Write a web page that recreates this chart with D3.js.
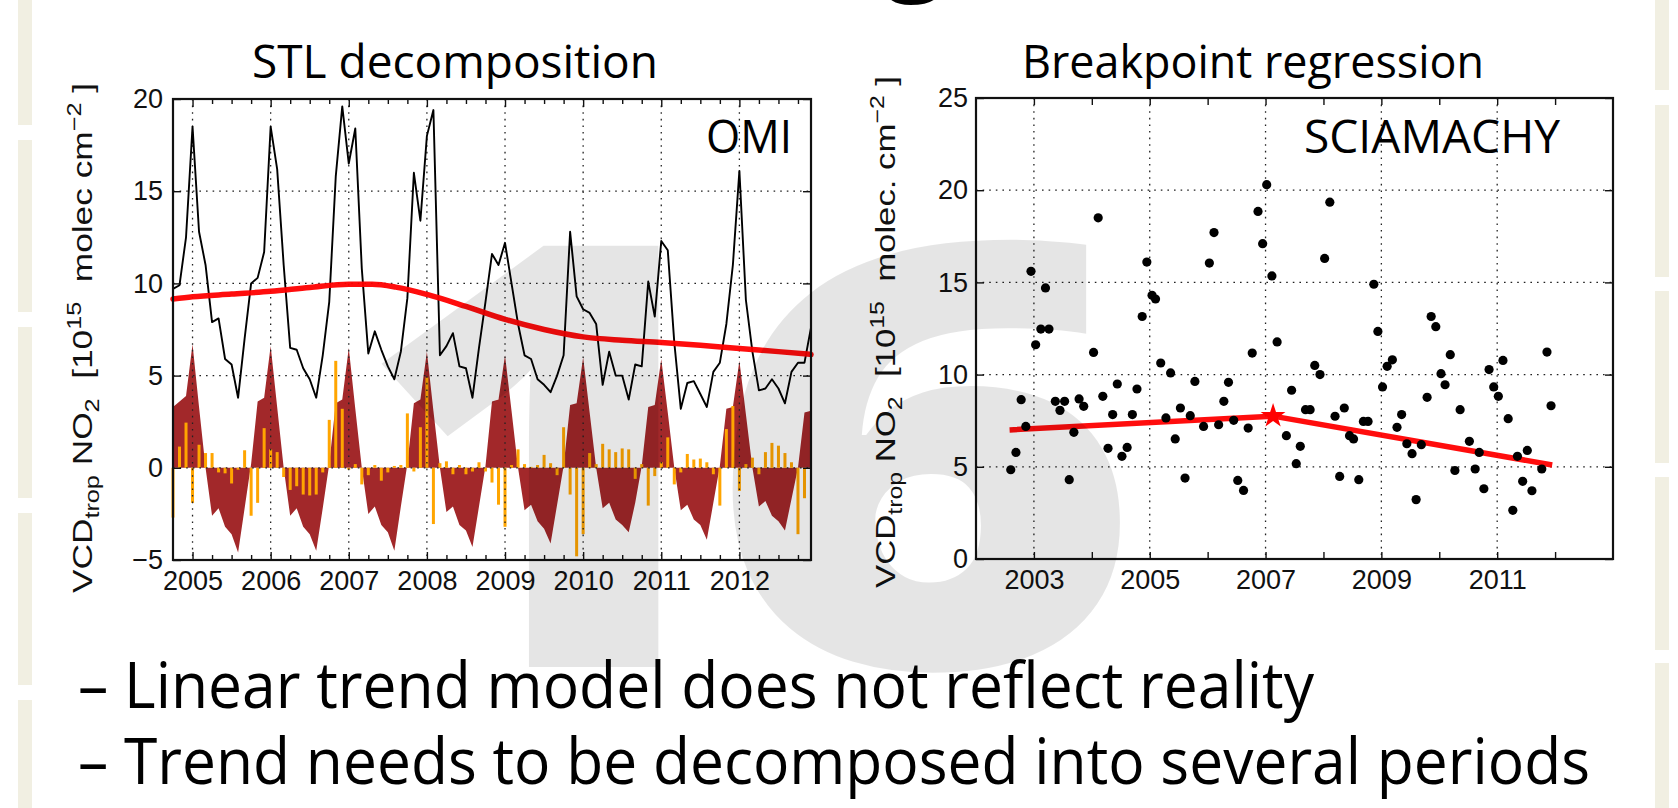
<!DOCTYPE html>
<html lang="en">
<head>
<meta charset="UTF-8">
<title>NO2 trend: STL decomposition and breakpoint regression</title>
<script src="https://d3js.org/d3.v7.min.js"></script>
<style>
  body { margin: 0; background: #fff; }
  svg { display: block; }
  .tick text { font-family: "Liberation Sans", Arial, sans-serif; font-size: 27px; fill: #111; }
  .tick line { stroke: #111; stroke-width: 1.4px; }
  .slide { font-family: "Open Sans", "Noto Sans", sans-serif; fill: #000; }
  .grid line { stroke: #222; stroke-width: 1.3px; stroke-dasharray: 1.6 5; }
</style>
</head>
<body>
<svg id="chart" width="1678" height="808"></svg>
<script>
// ---- OMI (left panel), monthly Oct 2004 .. Dec 2012 ----
const omiStart = 2004.75;
const omiVcd = [
  9.7, 9.9, 12.5,
  18.5, 12.8, 11.0, 7.9, 8.1, 5.9, 5.6, 3.8, 7.0, 10.0, 10.3, 11.7,
  18.5, 16.2, 11.0, 6.5, 6.4, 5.4, 4.8, 3.8, 6.1, 9.0, 15.8, 19.6,
  16.5, 18.4, 10.8, 6.2, 7.4, 6.4, 5.5, 4.8, 6.3, 9.2, 16.0, 13.4,
  18.0, 19.4, 6.1, 6.6, 7.3, 5.5, 5.4, 3.8, 6.5, 9.0, 11.6, 11.0,
  12.2, 10.0, 7.8, 6.1, 5.9, 4.8, 4.5, 4.1, 5.0, 6.1, 12.8, 9.3,
  8.6, 8.4, 7.8, 4.5, 6.3, 5.0, 5.0, 3.7, 5.6, 5.5, 10.1, 8.2,
  12.3, 11.8, 6.8, 3.2, 4.6, 4.7, 4.0, 3.3, 5.2, 5.7, 7.8, 11.0,
  16.1, 9.1, 6.3, 4.2, 4.3, 4.8, 4.3, 3.5, 5.2, 5.7, 5.7, 7.6
];
const omiSeasonal = [
  3.3, 3.6, 3.9,
  6.7, 3.3, 0.0, -2.6, -2.2, -3.2, -3.6, -4.6, -2.2, 0.2, 3.6, 3.8,
  6.6, 3.3, 0.0, -2.6, -2.2, -3.2, -3.6, -4.5, -2.2, 0.2, 3.5, 3.7,
  6.5, 3.2, 0.0, -2.5, -2.1, -3.1, -3.5, -4.5, -2.1, 0.2, 3.5, 3.7,
  6.3, 3.1, 0.0, -2.4, -2.1, -3.1, -3.4, -4.3, -2.1, 0.1, 3.6, 3.7,
  6.1, 3.1, 0.0, -2.3, -2.0, -2.9, -3.3, -4.1, -2.0, 0.1, 3.4, 3.5,
  6.0, 3.0, 0.0, -2.2, -1.9, -2.8, -3.1, -3.5, -1.9, 0.1, 3.3, 3.4,
  5.9, 3.0, 0.0, -2.3, -2.0, -2.8, -3.1, -3.9, -1.9, 0.1, 3.2, 3.3,
  5.8, 2.9, 0.0, -2.1, -1.8, -2.6, -2.9, -3.4, -1.7, 0.0, 3.0, 3.1
];
const omiResidual = [
  -2.7, 1.15, 2.45,
  -1.9, 1.25, 0.8, 0.8, -0.25, -0.3, -0.85, -0.1, 0.95, -2.6, -1.9, 2.15,
  1.0, 0.85, -0.5, -1.2, -1.0, -1.45, -1.5, -1.45, -0.25, 2.6, 5.8, 3.2,
  -0.1, 0.2, -0.9, -0.4, 0.15, -0.7, -0.25, 0.1, 0.15, 2.95, -0.2, 2.2,
  4.9, -3.05, 0.25, 0.35, -0.35, 0.15, -0.35, -0.2, 0.3, -0.2, -0.8, -2.0,
  -3.2, 0.15, 1.0, 0.2, 0.05, 0.15, 0.7, 0.25, -0.4, 2.2, -1.45, -4.8,
  -3.6, 0.8, 0.2, 1.3, 1.0, 0.85, 1.05, 1.0, -0.6, 0.2, -2.05, -0.45,
  0.3, 1.65, -0.9, -0.25, 0.75, 0.45, 0.5, 0.3, -0.35, -2.05, 2.1, 3.35,
  -1.25, 0.2, 0.55, -0.35, 0.85, 1.35, 1.2, 0.8, 0.3, -3.6, -1.65, 0.0
];
const omiTrendTime = [2004.75, 2005.0, 2005.5, 2006.0, 2006.5, 2007.0, 2007.3, 2007.6, 2008.0,
  2008.5, 2009.0, 2009.5, 2010.0, 2010.5, 2011.0, 2011.5, 2012.0, 2012.5, 2012.917];
const omiTrendVcd = [9.15, 9.27, 9.42, 9.57, 9.78, 9.95, 9.95, 9.8, 9.4,
  8.75, 8.05, 7.5, 7.1, 6.92, 6.8, 6.65, 6.47, 6.3, 6.15];
const omiYears = [2005, 2006, 2007, 2008, 2009, 2010, 2011, 2012];
const omiYTicks = [-5, 0, 5, 10, 15, 20];

// ---- SCIAMACHY (right panel) ----
const sciaTime = [
  2002.60, 2002.69, 2002.78, 2002.86, 2002.95, 2003.03, 2003.12, 2003.20, 2003.26, 2003.37,
  2003.45, 2003.53, 2003.61, 2003.69, 2003.78, 2003.86, 2004.03, 2004.11, 2004.19, 2004.28,
  2004.36, 2004.44, 2004.52, 2004.61, 2004.70, 2004.78, 2004.87, 2004.95, 2005.04, 2005.10,
  2005.19, 2005.28, 2005.36, 2005.44, 2005.53, 2005.61, 2005.70, 2005.78, 2005.93, 2006.03,
  2006.11, 2006.19, 2006.28, 2006.36, 2006.45, 2006.52, 2006.62, 2006.70, 2006.77, 2006.87,
  2006.95, 2007.02, 2007.11, 2007.20, 2007.36, 2007.45, 2007.53, 2007.60, 2007.69, 2007.77,
  2007.85, 2007.94, 2008.02, 2008.11, 2008.20, 2008.28, 2008.36, 2008.45, 2008.52, 2008.61,
  2008.69, 2008.77, 2008.87, 2008.94, 2009.02, 2009.10, 2009.19, 2009.27, 2009.35, 2009.44,
  2009.53, 2009.60, 2009.69, 2009.79, 2009.86, 2009.94, 2010.03, 2010.10, 2010.19, 2010.27,
  2010.36, 2010.52, 2010.62, 2010.69, 2010.77, 2010.86, 2010.94, 2011.02, 2011.10, 2011.19,
  2011.27, 2011.35, 2011.44, 2011.52, 2011.60, 2011.77, 2011.86, 2011.93
];
const sciaVcd = [
  4.84, 5.78, 8.64, 7.19, 15.6, 11.62, 12.47, 14.7, 12.47, 8.55,
  8.06, 8.55, 4.3, 6.87, 8.68, 8.28, 11.2, 18.5, 8.82, 6.0,
  7.83, 9.49, 5.57, 6.05, 7.83, 9.22, 13.15, 16.1, 14.3, 14.1,
  10.63, 7.65, 10.09, 6.51, 8.19, 4.39, 7.77, 9.63, 7.19, 16.05,
  17.7, 7.28, 8.55, 9.58, 7.52, 4.26, 3.72, 7.1, 11.17, 18.85,
  17.1, 20.3, 15.35, 11.77, 6.69, 9.15, 5.17, 6.11, 8.1, 8.1,
  10.5, 10.0, 16.3, 19.35, 7.74, 4.48, 8.19, 6.69, 6.51, 4.3,
  7.46, 7.46, 14.9, 12.34, 9.33, 10.45, 10.8, 7.14, 7.83, 6.25,
  5.71, 3.22, 6.2, 8.77, 13.15, 12.6, 10.05, 9.45, 11.08, 4.8,
  8.1, 6.38, 4.88, 5.78, 3.81, 10.27, 9.33, 8.82, 10.77, 7.61,
  2.64, 5.57, 4.21, 5.89, 3.7, 4.88, 11.22, 8.31
];
const breakTime = [2002.58, 2007.13, 2011.95];
const breakVcd = [7.0, 7.75, 5.1];
const sciaYears = [2003, 2004, 2005, 2006, 2007, 2008, 2009, 2010, 2011, 2012];
const sciaLabelYears = [2003, 2005, 2007, 2009, 2011];
const sciaYTicks = [0, 5, 10, 15, 20, 25];

const svg = d3.select("#chart");

// slide decoration: beige side strips
const leftStrip = [[0, 125], [140, 312], [327, 498], [513, 685], [700, 808]];
const rightStrip = [[0, 90], [105, 277], [291, 463], [477, 650], [663, 808]];
svg.append("g").selectAll("rect").data(leftStrip).join("rect")
  .attr("x", 18).attr("width", 14)
  .attr("y", d => d[0]).attr("height", d => d[1] - d[0])
  .attr("fill", "#f1efe2");
svg.append("g").selectAll("rect").data(rightStrip).join("rect")
  .attr("x", 1655).attr("width", 14)
  .attr("y", d => d[0]).attr("height", d => d[1] - d[0])
  .attr("fill", "#f1efe2");

// cut-off slide title (only a descender shows)
svg.append("text").attr("class", "slide")
  .attr("x", 915).attr("y", -22).attr("text-anchor", "middle")
  .attr("font-size", 110).attr("font-weight", 600).text("g");

function ticksInward(g, axis) {
  g.call(axis);
  g.select(".domain").remove();
}
function ticksOnly(g, axis) {
  ticksInward(g, axis);
  g.selectAll("text").remove();
}

function yLabel(x, y, len, unit) {
  const t = svg.append("text")
    .attr("transform", `translate(${x},${y}) rotate(-90)`)
    .attr("text-anchor", "middle")
    .attr("font-family", "Liberation Sans, Arial, sans-serif")
    .attr("font-size", 28).attr("fill", "#111")
    .attr("textLength", len).attr("lengthAdjust", "spacingAndGlyphs");
  t.append("tspan").text("VCD");
  t.append("tspan").attr("font-size", 20).attr("dy", 7).text("trop");
  t.append("tspan").attr("dy", -7).text("\u00a0NO");
  t.append("tspan").attr("font-size", 20).attr("dy", 7).text("2");
  t.append("tspan").attr("dy", -7).text("\u00a0\u00a0[10");
  t.append("tspan").attr("font-size", 20).attr("dy", -11).text("15");
  t.append("tspan").attr("dy", 11).text("\u00a0\u00a0" + unit + "\u00a0cm");
  t.append("tspan").attr("font-size", 20).attr("dy", -11).text("\u22122");
  t.append("tspan").attr("dy", 11).text("\u00a0]");
}

// ================= left panel: STL decomposition =================
const xL = d3.scaleLinear().domain([omiStart, omiStart + (omiVcd.length - 1) / 12]).range([173, 811]);
const yL = d3.scaleLinear().domain([-5, 20]).range([560, 99]);
const tOmi = i => omiStart + i / 12;

const left = svg.append("g");

left.append("path")
  .datum(omiSeasonal)
  .attr("fill", "#a2282a")
  .attr("d", d3.area().x((d, i) => xL(tOmi(i))).y0(yL(0)).y1(d => yL(d)));

left.append("g").selectAll("rect").data(omiResidual).join("rect")
  .attr("x", (d, i) => xL(tOmi(i)) - 1.5)
  .attr("width", 3)
  .attr("y", d => yL(Math.max(0, d)))
  .attr("height", d => Math.abs(yL(d) - yL(0)))
  .attr("fill", "#ffa500");

const gridL = left.append("g").attr("class", "grid");
gridL.selectAll(".gx").data(omiYears).join("line").attr("class", "gx")
  .attr("x1", d => xL(d)).attr("x2", d => xL(d)).attr("y1", yL(20)).attr("y2", yL(-5));
gridL.selectAll(".gy").data([0, 5, 10, 15]).join("line").attr("class", "gy")
  .attr("x1", xL.range()[0]).attr("x2", xL.range()[1]).attr("y1", d => yL(d)).attr("y2", d => yL(d));

left.append("path")
  .datum(omiVcd)
  .attr("fill", "none").attr("stroke", "#000").attr("stroke-width", 1.9)
  .attr("stroke-linejoin", "round")
  .attr("d", d3.line().x((d, i) => xL(tOmi(i))).y(d => yL(d)));

left.append("path")
  .datum(d3.zip(omiTrendTime, omiTrendVcd))
  .attr("fill", "none").attr("stroke", "#ff0000").attr("stroke-width", 5.5)
  .attr("stroke-linecap", "round").attr("opacity", 0.95)
  .attr("d", d3.line().x(d => xL(d[0])).y(d => yL(d[1])).curve(d3.curveMonotoneX));

// quarterly minor ticks
const omiQuarters = d3.range(2005, 2013, 0.25).filter(q => q % 1 !== 0 && q < 2012.9);
left.append("g").attr("transform", `translate(0,${yL(-5)})`)
  .call(ticksOnly, d3.axisBottom(xL).tickValues(omiQuarters).tickSize(-5));
left.append("g").attr("transform", `translate(0,${yL(20)})`)
  .call(ticksOnly, d3.axisTop(xL).tickValues(omiQuarters).tickSize(-5));
left.append("g").attr("transform", `translate(0,${yL(-5)})`)
  .call(ticksInward, d3.axisBottom(xL).tickValues(omiYears).tickSize(-8).tickPadding(11).tickFormat(d3.format("d")));
left.append("g").attr("transform", `translate(0,${yL(20)})`)
  .call(ticksOnly, d3.axisTop(xL).tickValues(omiYears).tickSize(-8));
left.append("g").attr("transform", `translate(${xL.range()[0]},0)`)
  .call(ticksInward, d3.axisLeft(yL).tickValues(omiYTicks).tickSize(-8).tickPadding(10));
left.append("g").attr("transform", `translate(${xL.range()[1]},0)`)
  .call(ticksOnly, d3.axisRight(yL).tickValues(omiYTicks).tickSize(-8));

left.append("rect")
  .attr("x", xL.range()[0]).attr("y", yL(20))
  .attr("width", xL.range()[1] - xL.range()[0]).attr("height", yL(-5) - yL(20))
  .attr("fill", "none").attr("stroke", "#111").attr("stroke-width", 2.2);

yLabel(92, 338, 510, "molec");

// ================= right panel: breakpoint regression =================
const xR = d3.scaleLinear().domain([2002, 2013]).range([976, 1613]);
const yR = d3.scaleLinear().domain([0, 25]).range([559, 98]);

const right = svg.append("g");

const gridR = right.append("g").attr("class", "grid");
gridR.selectAll(".gx").data(sciaLabelYears).join("line").attr("class", "gx")
  .attr("x1", d => xR(d)).attr("x2", d => xR(d)).attr("y1", yR(25)).attr("y2", yR(0));
gridR.selectAll(".gy").data([5, 10, 15, 20]).join("line").attr("class", "gy")
  .attr("x1", xR.range()[0]).attr("x2", xR.range()[1]).attr("y1", d => yR(d)).attr("y2", d => yR(d));

right.append("path")
  .datum(d3.zip(breakTime, breakVcd))
  .attr("fill", "none").attr("stroke", "#ff0000").attr("stroke-width", 5.5)
  .attr("stroke-linejoin", "round").attr("opacity", 0.95)
  .attr("d", d3.line().x(d => xR(d[0])).y(d => yR(d[1])));

right.append("g").selectAll("circle").data(d3.zip(sciaTime, sciaVcd)).join("circle")
  .attr("cx", d => xR(d[0])).attr("cy", d => yR(d[1])).attr("r", 4.6)
  .attr("fill", "#000");

right.append("path")
  .attr("transform", `translate(${xR(breakTime[1])},${yR(breakVcd[1])})`)
  .attr("d", d3.symbol(d3.symbolStar, 190)())
  .attr("fill", "#ff0000");

right.append("g").attr("transform", `translate(0,${yR(0)})`)
  .call(ticksOnly, d3.axisBottom(xR).tickValues(sciaYears.filter(y => !sciaLabelYears.includes(y))).tickSize(-7));
right.append("g").attr("transform", `translate(0,${yR(0)})`)
  .call(ticksInward, d3.axisBottom(xR).tickValues(sciaLabelYears).tickSize(-7)
    .tickPadding(11).tickFormat(d3.format("d")));
right.append("g").attr("transform", `translate(0,${yR(25)})`)
  .call(ticksOnly, d3.axisTop(xR).tickValues(sciaYears).tickSize(-7));
right.append("g").attr("transform", `translate(${xR.range()[0]},0)`)
  .call(ticksInward, d3.axisLeft(yR).tickValues(sciaYTicks).tickSize(-8).tickPadding(8));
right.append("g").attr("transform", `translate(${xR.range()[1]},0)`)
  .call(ticksOnly, d3.axisRight(yR).tickValues(sciaYTicks).tickSize(-8));

right.append("rect")
  .attr("x", xR.range()[0]).attr("y", yR(25))
  .attr("width", xR.range()[1] - xR.range()[0]).attr("height", yR(0) - yR(25))
  .attr("fill", "none").attr("stroke", "#111").attr("stroke-width", 2.2);

yLabel(895, 332, 512, "molec.");

// ================= slide texts =================
const titles = [
  { text: "STL decomposition", x: 252, y: 78, size: 46, len: 406 },
  { text: "Breakpoint regression", x: 1022, y: 78, size: 46, len: 462 },
  { text: "OMI", x: 706, y: 153, size: 46, len: 86 },
  { text: "SCIAMACHY", x: 1304, y: 153, size: 46, len: 256 },
  { text: "\u2013 Linear trend model does not reflect reality", x: 78, y: 708, size: 64, len: 1236 },
  { text: "\u2013 Trend needs to be decomposed into several periods", x: 78, y: 784, size: 64, len: 1512 }
];
svg.append("g").selectAll("text").data(titles).join("text")
  .attr("class", "slide")
  .attr("x", d => d.x).attr("y", d => d.y)
  .attr("font-size", d => d.size)
  .attr("textLength", d => d.len).attr("lengthAdjust", "spacingAndGlyphs")
  .text(d => d.text);

// slide number watermark drawn over everything
svg.append("g")
  .attr("fill", "#000").attr("fill-opacity", 0.1)
  .attr("font-family", "Open Sans, sans-serif").attr("font-weight", 800)
  .attr("font-size", 590).attr("text-anchor", "middle")
  .selectAll("text").data([{ ch: "1", x: 548, sx: 1.12 }, { ch: "6", x: 925, sx: 1.26 }]).join("text")
  .attr("transform", d => `translate(${d.x},667) scale(${d.sx},1)`)
  .text(d => d.ch);
</script>
</body>
</html>
